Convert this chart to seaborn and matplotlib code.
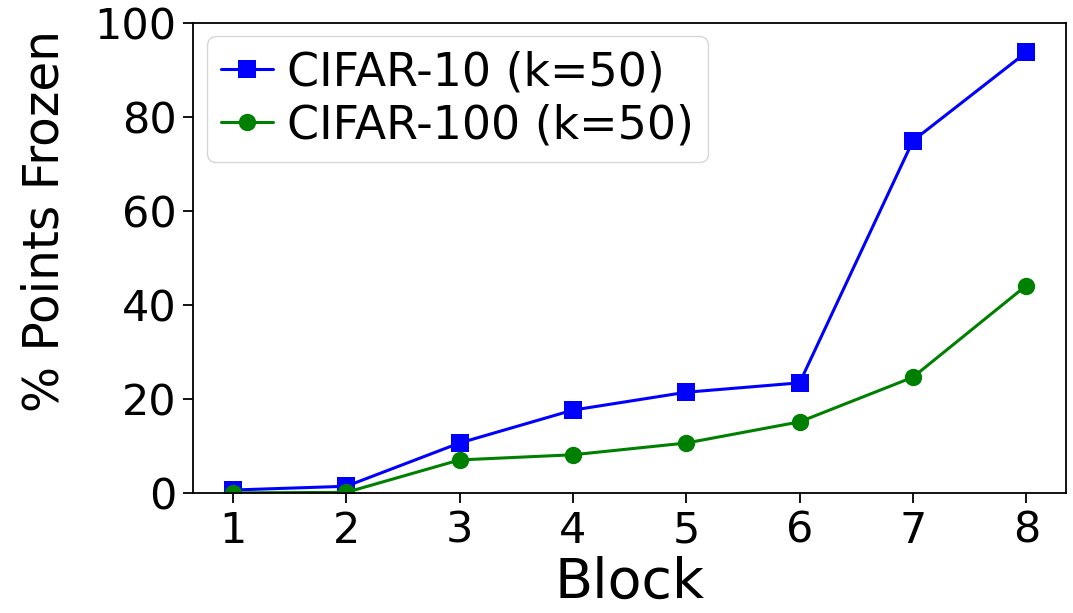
import matplotlib
matplotlib.use("Agg")
import matplotlib.pyplot as plt
import pandas as pd
import seaborn as sns

blocks = [1, 2, 3, 4, 5, 6, 7, 8]
cifar10 = [0.6, 1.4, 10.6, 17.6, 21.4, 23.4, 74.9, 93.7]
cifar100 = [0.0, 0.1, 7.0, 8.1, 10.6, 15.1, 24.6, 44.1]
labels = ["CIFAR-10 (k=50)", "CIFAR-100 (k=50)"]

sns.set_style("ticks", {"text.color": "black", "axes.labelcolor": "black",
                        "xtick.color": "black", "ytick.color": "black",
                        "axes.edgecolor": "black"})
plt.rcParams["font.family"] = ["DejaVu Sans"]

df = pd.DataFrame({"block": blocks, "c10": cifar10, "c100": cifar100})

fig = plt.figure(figsize=(10.73, 6.13), dpi=100)
ax = fig.add_axes([0.180, 0.196, 0.8135, 0.767])

sns.lineplot(data=df, x="block", y="c10", ax=ax, color="blue", marker="s",
             markersize=12.5, markeredgewidth=0, linewidth=2.2, label=labels[0])
sns.lineplot(data=df, x="block", y="c100", ax=ax, color="green", marker="o",
             markersize=12.5, markeredgewidth=0, linewidth=2.2, label=labels[1])

ax.set_ylim(0, 100)
ax.set_xticks(blocks)
ax.set_yticks([0, 20, 40, 60, 80, 100])
ax.set_xlabel("Block", fontsize=40, labelpad=3)
ax.set_ylabel("% Points Frozen", fontsize=35)
ax.yaxis.set_label_coords(-0.143, 0.578)
ax.tick_params(labelsize=31, length=7, width=1.3, pad=5)
for s in ax.spines.values():
    s.set_linewidth(1.3)

leg = ax.legend(loc="upper left", fontsize=33, handlelength=1.15, handletextpad=0.3,
                borderpad=0.3, labelspacing=0.18, borderaxespad=0.3,
                frameon=True, framealpha=0.8, edgecolor="#cccccc")
for t in leg.get_texts():
    t.set_color("black")

fig.savefig("out.png", dpi=100)
